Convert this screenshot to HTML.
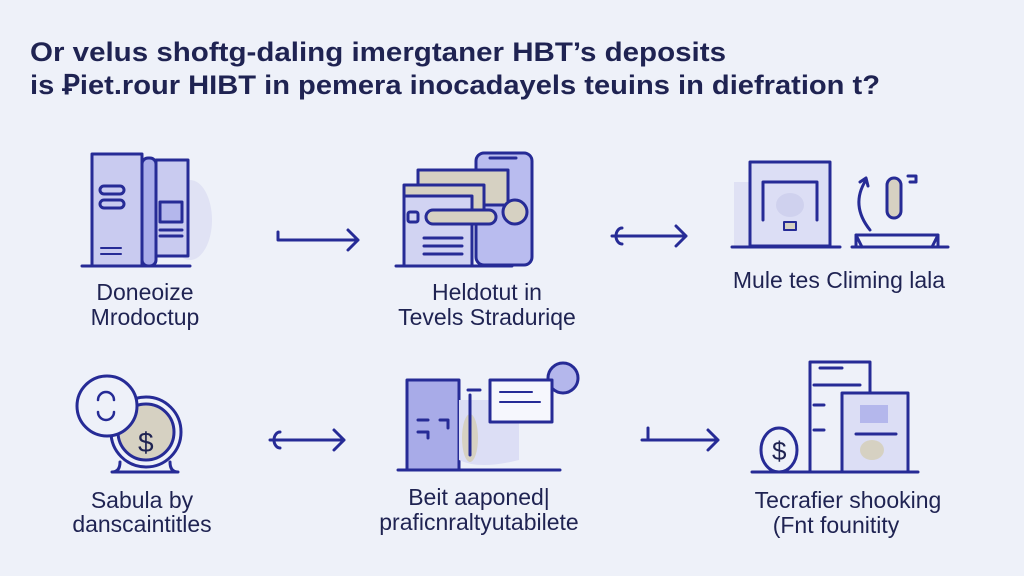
<!DOCTYPE html>
<html><head><meta charset="utf-8"><style>
html,body{margin:0;padding:0;background:#eef1f9;}
svg{display:block}
text{font-family:"Liberation Sans",sans-serif;fill:#1f2352}
</style></head><body>
<svg width="1024" height="576" viewBox="0 0 1024 576" xmlns="http://www.w3.org/2000/svg">
<rect width="1024" height="576" fill="#eef1f9"/>
<text x="30" y="61" font-size="27" font-weight="bold" textLength="696" lengthAdjust="spacingAndGlyphs" fill="#1c2060">Or velus shoftg-daling imergtaner HBT’s deposits</text>
<text x="30" y="94" font-size="27" font-weight="bold" textLength="850" lengthAdjust="spacingAndGlyphs" fill="#1c2060">is Ꝑiet.rour HIBT in pemera inocadayels teuins in diefration t?</text>

<g stroke="#262b96" stroke-width="3" fill="none" stroke-linecap="round" stroke-linejoin="round">
<!-- icon 1 -->
<ellipse cx="190" cy="220" rx="22" ry="40" fill="#e0e2f4" stroke="none"/>
<rect x="92" y="154" width="50" height="112" fill="#c9cbf0"/>
<rect x="142" y="158" width="14" height="108" rx="6" fill="#a9acea"/>
<rect x="156" y="160" width="32" height="96" fill="#c9cbf0"/>
<rect x="160" y="202" width="22" height="20" fill="#b4b7ec"/>
<line x1="160" y1="230" x2="182" y2="230"/><line x1="160" y1="236" x2="182" y2="236"/>
<rect x="100" y="186" width="24" height="8" rx="4"/><rect x="100" y="200" width="24" height="8" rx="4"/>
<line x1="101" y1="248" x2="121" y2="248" stroke-width="2"/><line x1="101" y1="254" x2="121" y2="254" stroke-width="2"/>
<line x1="82" y1="266" x2="190" y2="266"/>
<!-- arrow 1 -->
<path d="M278 232 v8 h50 M288 240 h70 M348 230 l10 10 l-10 10"/>
<!-- icon 2 -->
<rect x="476" y="153" width="56" height="112" rx="8" fill="#b9bcef"/>
<line x1="490" y1="158" x2="516" y2="158"/>
<path d="M418 170 h90 v35 h-90 z" fill="#d6d1c2"/>
<path d="M404 185 h80 v30 h-80 z" fill="#d6d1c2"/>
<rect x="404" y="196" width="68" height="70" fill="#d1d3f2"/>
<rect x="408" y="212" width="10" height="10" rx="2"/>
<rect x="426" y="210" width="70" height="14" rx="7" fill="#d6d1c2"/>
<circle cx="515" cy="212" r="12" fill="#d6d1c2"/>
<line x1="424" y1="238" x2="462" y2="238"/><line x1="424" y1="246" x2="462" y2="246"/><line x1="424" y1="254" x2="462" y2="254"/>
<line x1="396" y1="266" x2="512" y2="266"/>
<!-- arrow 2 -->
<path d="M622 228 a6 8 0 1 0 0 16 M612 236 h74 M676 226 l10 10 l-10 10"/>
<!-- icon 3 -->
<rect x="734" y="182" width="30" height="66" fill="#dfe1f4" stroke="none"/>
<rect x="750" y="162" width="80" height="84" fill="#dcdef5"/>
<path d="M763 220 v-38 h54 v38"/>
<ellipse cx="790" cy="205" rx="14" ry="12" fill="#cfd1ee" stroke="none"/>
<path d="M784 222 h12 v8 h-12 z" fill="#d6d1c2" stroke-width="2"/>
<line x1="732" y1="247" x2="840" y2="247"/>
<path d="M870 230 q-20 -25 -4 -50 M860 182 l6 -4 l2 8"/>
<rect x="887" y="178" width="14" height="40" rx="7" fill="#d6d1c2"/>
<path d="M908 176 h8 v6 h-6"/>
<path d="M856 247 v-12 h82 v12 M856 235 l6 12 M938 235 l-6 12"/>
<line x1="852" y1="247" x2="948" y2="247"/>
<!-- icon 4 -->
<circle cx="146" cy="432" r="35" fill="#eef1f9"/>
<circle cx="146" cy="432" r="28" fill="#d6d1c2"/>
<circle cx="107" cy="406" r="30" fill="#eef1f9"/>
<path d="M98 400 a8 8 0 0 1 16 0 M98 412 a8 8 0 0 0 16 0" stroke-width="2.5"/>
<path d="M120 462 q0 10 -8 10 h66 q-8 0 -8 -10"/>
<!-- arrow 4 -->
<path d="M280 432 a6 8 0 1 0 0 16 M270 440 h74 M334 430 l10 10 l-10 10"/>
<!-- icon 5 -->
<rect x="407" y="380" width="52" height="90" fill="#a8abe8"/>
<path d="M459 400 h60 v60 q-40 10 -60 0 z" fill="#dcdef5" stroke="none"/>
<ellipse cx="470" cy="438" rx="8" ry="24" fill="#d6d1c2" stroke="none"/>
<circle cx="563" cy="378" r="15" fill="#b4b7ec"/>
<rect x="490" y="380" width="62" height="42" fill="#f6f7fd"/>
<line x1="500" y1="392" x2="532" y2="392" stroke-width="2"/><line x1="500" y1="402" x2="540" y2="402" stroke-width="2"/>
<path d="M470 395 v60 M468 390 h12"/>
<path d="M418 420 h10 M418 432 h10 v6 M440 420 h8 v8"/>
<line x1="398" y1="470" x2="560" y2="470"/>
<!-- arrow 5 -->
<path d="M648 428 v10 M642 440 h76 M708 430 l10 10 l-10 10"/>
<!-- icon 6 -->
<rect x="810" y="362" width="60" height="110" fill="#eef1f9"/>
<line x1="820" y1="368" x2="842" y2="368"/><line x1="814" y1="385" x2="860" y2="385"/><line x1="814" y1="405" x2="824" y2="405"/><line x1="814" y1="430" x2="824" y2="430"/>
<rect x="842" y="393" width="66" height="79" fill="#dcdef5"/>
<rect x="860" y="405" width="28" height="18" fill="#b4b7ec" stroke="none"/>
<line x1="856" y1="434" x2="896" y2="434"/>
<ellipse cx="872" cy="450" rx="12" ry="10" fill="#d6d1c2" stroke="none"/>
<ellipse cx="779" cy="450" rx="18" ry="22" fill="#eef1f9"/>
<text x="772" y="460" font-size="26" fill="#262b96" stroke="none">$</text>
<line x1="752" y1="472" x2="918" y2="472"/>
</g>
<text x="138" y="452" font-size="28" fill="#262b96">$</text>

<g font-size="23" text-anchor="middle">
<text x="145" y="300">Doneoize</text>
<text x="145" y="325">Mrodoctup</text>
<text x="487" y="300">Heldotut in</text>
<text x="487" y="325">Tevels Straduriqe</text>
<text x="839" y="288">Mule tes Climing lala</text>
<text x="142" y="508">Sabula by</text>
<text x="142" y="532">danscaintitles</text>
<text x="479" y="505">Beit aaponed|</text>
<text x="479" y="530">praficnraltyutabilete</text>
<text x="848" y="508">Tecrafier shooking</text>
<text x="836" y="533">(Fnt founitity</text>
</g>
</svg>
</body></html>
